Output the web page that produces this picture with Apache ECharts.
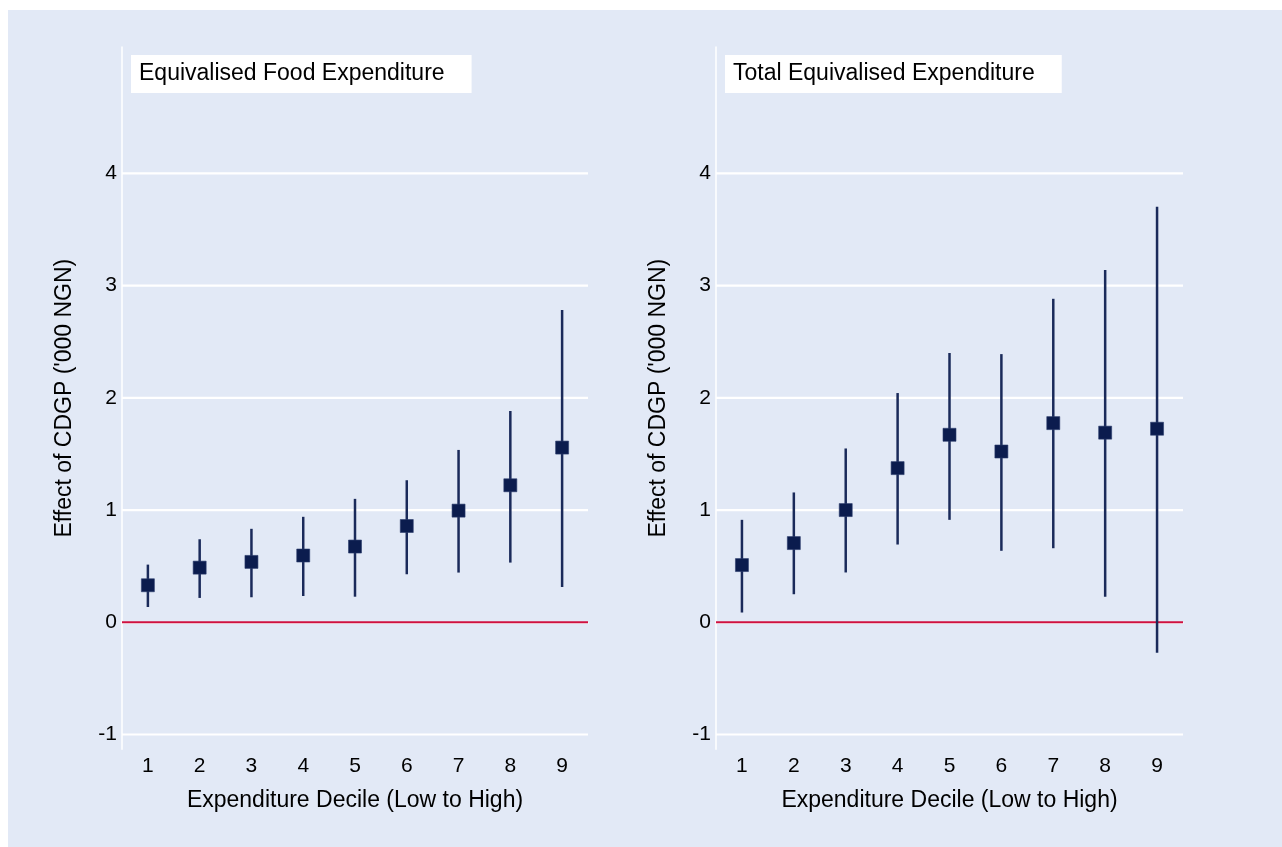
<!DOCTYPE html>
<html>
<head>
<meta charset="utf-8">
<script src="https://cdn.jsdelivr.net/npm/echarts@6/dist/echarts.min.js"></script>
<style>
  html, body { margin: 0; padding: 0; background: #ffffff; }
  #chart { position: absolute; left: 8px; top: 10px; width: 1274px; height: 837px; }
</style>
</head>
<body>
<div id="chart"></div>
<script>
// ---- data ----
const categories = ['1', '2', '3', '4', '5', '6', '7', '8', '9'];
const yTickValues = [-1, 0, 1, 2, 3, 4];
const gridLineValues = [-1, 1, 2, 3, 4];
const zeroLineValue = [0];

const panelTitles = ['Equivalised Food Expenditure', 'Total Equivalised Expenditure'];
const xAxisTitle = 'Expenditure Decile (Low to High)';
const yAxisTitle = "Effect of CDGP ('000 NGN)";

const foodEst = [0.33, 0.487, 0.538, 0.595, 0.675, 0.858, 0.995, 1.221, 1.557];
const foodLo  = [0.136, 0.217, 0.223, 0.234, 0.228, 0.428, 0.443, 0.532, 0.315];
const foodHi  = [0.514, 0.74, 0.833, 0.94, 1.10, 1.266, 1.536, 1.883, 2.783];

const totalEst = [0.51, 0.706, 1.0, 1.374, 1.671, 1.522, 1.775, 1.69, 1.725];
const totalLo  = [0.087, 0.25, 0.444, 0.693, 0.913, 0.637, 0.66, 0.228, -0.271];
const totalHi  = [0.913, 1.157, 1.549, 2.043, 2.40, 2.39, 2.883, 3.14, 3.704];

const yMin = -1.132, yMax = 5.127;

// ---- styles ----
const FONT = '"Liberation Sans", Arial, Helvetica, sans-serif';
const BG = '#e2e9f6';
const NAVY = '#0b1c4e';
const WHISKER = '#1a2a5a';
const RED = '#cf1140';

const chart = echarts.init(document.getElementById('chart'), null, { renderer: 'canvas' });

const gridLefts = [114, 708];
const gridWidth = [466, 467];

function hLineSeries(idx, values, color, width, z) {
  return {
    type: 'custom',
    xAxisIndex: idx, yAxisIndex: idx,
    z: z, silent: true,
    data: values.map(v => [0, v]),
    encode: { x: 0, y: 1 },
    renderItem: function (params, api) {
      const cs = params.coordSys;
      const y = api.coord([0, api.value(1)])[1];
      return {
        type: 'line',
        shape: { x1: cs.x, y1: y, x2: cs.x + cs.width, y2: y },
        style: { stroke: color, lineWidth: width }
      };
    }
  };
}

function errSeries(idx, lo, hi) {
  return {
    type: 'custom',
    xAxisIndex: idx, yAxisIndex: idx,
    z: 3, silent: true,
    data: categories.map((c, i) => [i, lo[i], hi[i]]),
    encode: { x: 0, y: [1, 2] },
    renderItem: function (params, api) {
      const p1 = api.coord([api.value(0), api.value(1)]);
      const p2 = api.coord([api.value(0), api.value(2)]);
      return {
        type: 'line',
        shape: { x1: p1[0], y1: p1[1], x2: p2[0], y2: p2[1] },
        style: { stroke: WHISKER, lineWidth: 2.5 }
      };
    }
  };
}

function pointSeries(idx, est) {
  return {
    type: 'scatter',
    xAxisIndex: idx, yAxisIndex: idx,
    z: 4, silent: true,
    symbol: 'rect', symbolSize: 13,
    itemStyle: { color: NAVY, opacity: 1, borderColor: '#2c3c6c', borderWidth: 0.6 },
    data: categories.map((c, i) => [i, est[i]])
  };
}

const option = {
  backgroundColor: BG,
  animation: false,
  textStyle: { fontFamily: FONT },
  title: panelTitles.map((t, i) => ({
    text: t,
    left: i === 0 ? 123 : 717,
    top: 45,
    backgroundColor: '#ffffff',
    padding: i === 0 ? [7, 27, 7, 8] : [7, 27, 7, 8],
    textStyle: { fontFamily: FONT, fontSize: 23, fontWeight: 'normal', color: '#000', lineHeight: 24 }
  })),
  grid: gridLefts.map((l, i) => ({ left: l, top: 37, width: gridWidth[i], height: 702.3, containLabel: false })),
  xAxis: [0, 1].map(i => ({
    type: 'category',
    gridIndex: i,
    data: categories,
    boundaryGap: true,
    axisLine: { show: true, lineStyle: { color: '#ffffff', width: 1.5 } },
    axisTick: { show: false },
    splitLine: { show: false },
    axisLabel: { color: '#000', fontSize: 21, fontFamily: FONT, margin: 6 },
    name: xAxisTitle,
    nameLocation: 'middle',
    nameGap: 40,
    nameTextStyle: { color: '#000', fontSize: 23, fontFamily: FONT }
  })),
  yAxis: [0, 1].map(i => ({
    type: 'value',
    gridIndex: i,
    min: yMin, max: yMax,
    axisLine: { show: true, lineStyle: { color: '#ffffff', width: 1.5 } },
    axisTick: { show: false },
    splitLine: { show: false },
    axisLabel: {
      customValues: yTickValues,
      color: '#000', fontSize: 21, fontFamily: FONT, margin: 5,
      formatter: v => String(Math.round(v))
    },
    name: yAxisTitle,
    nameLocation: 'middle',
    nameRotate: 90,
    nameGap: 46,
    nameTextStyle: { color: '#000', fontSize: 23, fontFamily: FONT }
  })),
  series: [
    hLineSeries(0, gridLineValues, '#ffffff', 2.2, 1),
    hLineSeries(0, zeroLineValue, RED, 2, 2),
    errSeries(0, foodLo, foodHi),
    pointSeries(0, foodEst),
    hLineSeries(1, gridLineValues, '#ffffff', 2.2, 1),
    hLineSeries(1, zeroLineValue, RED, 2, 2),
    errSeries(1, totalLo, totalHi),
    pointSeries(1, totalEst)
  ]
};

chart.setOption(option);
</script>
</body>
</html>
